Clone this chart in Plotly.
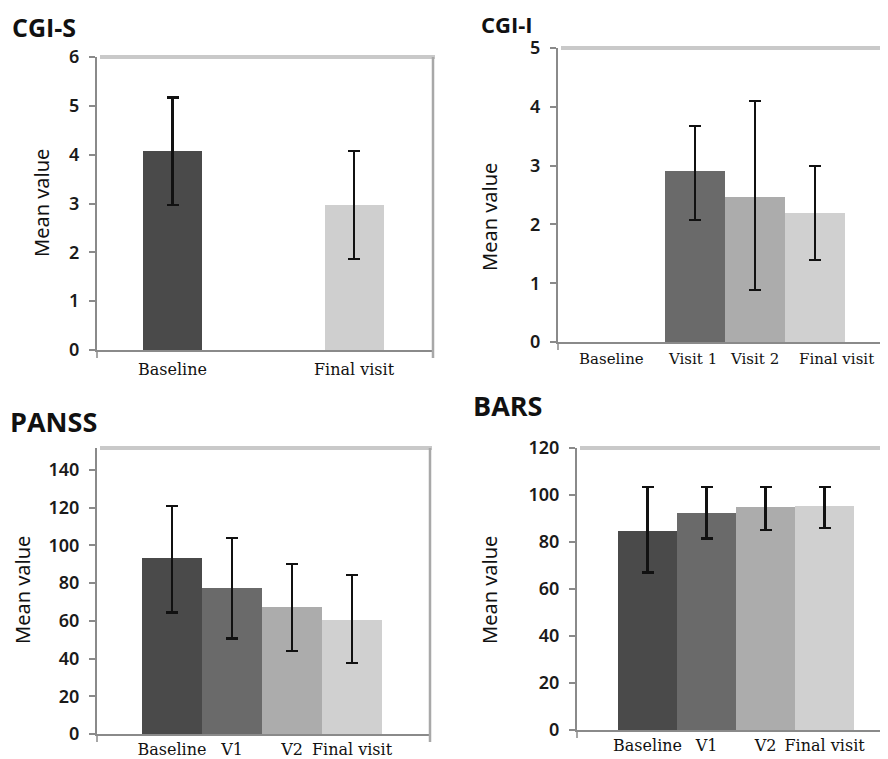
import plotly.graph_objects as go

# ---------------- data ----------------
cgis_categories = ["Baseline", "Final visit"]
cgis_mean = [4.07, 2.97]
cgis_low = [2.97, 1.87]
cgis_high = [5.17, 4.07]

cgii_categories = ["Baseline", "Visit 1", "Visit 2", "Final visit"]
cgii_mean = [None, 2.90, 2.46, 2.19]
cgii_low = [None, 2.08, 0.89, 1.39]
cgii_high = [None, 3.68, 4.10, 3.00]

panss_categories = ["Baseline", "V1", "V2", "Final visit"]
panss_mean = [93.2, 77.6, 67.5, 60.6]
panss_low = [64.5, 50.7, 44.0, 37.8]
panss_high = [121.1, 103.8, 90.2, 84.3]

bars_categories = ["Baseline", "V1", "V2", "Final visit"]
bars_mean = [84.5, 92.5, 94.8, 95.5]
bars_low = [67.0, 81.5, 85.0, 85.8]
bars_high = [103.5, 103.5, 103.5, 103.5]

panel_titles = ["CGI-S", "CGI-I", "PANSS", "BARS"]
y_title = "Mean value"

# ---------------- style ----------------
W, H = 888, 759
OFF = 8  # page body margin offset
colors4 = ["#4a4a4a", "#6a6a6a", "#acacac", "#d0d0d0"]
colors2 = ["#4a4a4a", "#cfcfcf"]
axis_grey = "#8a8a8a"


def px_x(p):
    return (p - OFF) / W


def px_y(p):
    return 1 - (p - OFF) / H


# panel geometry in screen pixels: (left, right, top, bottom)
panels = [
    dict(l=97, r=433, t=57, b=350),
    dict(l=558, r=896, t=48, b=342),
    dict(l=97, r=430, t=448, b=734),
    dict(l=577, r=896, t=448, b=730),
]

fig = go.Figure()


def add_bars(idx, cats, mean, low, high, cols, width):
    xa = "x" if idx == 1 else f"x{idx}"
    ya = "y" if idx == 1 else f"y{idx}"
    plus = [None if m is None else h - m for m, h in zip(mean, high)]
    minus = [None if m is None else m - l for m, l in zip(mean, low)]
    fig.add_trace(go.Bar(
        x=cats, y=mean, xaxis=xa, yaxis=ya,
        marker=dict(color=cols, line=dict(width=0)),
        width=width,
        error_y=dict(type="data", symmetric=False, array=plus, arrayminus=minus,
                     color="#111111", thickness=2.2, width=6),
        showlegend=False, hoverinfo="x+y",
    ))


add_bars(1, cgis_categories, cgis_mean, cgis_low, cgis_high, colors2, 0.325)
add_bars(2, cgii_categories, cgii_mean, cgii_low, cgii_high, colors4, 1.0)
add_bars(3, panss_categories, panss_mean, panss_low, panss_high, colors4, 1.0)
add_bars(4, bars_categories, bars_mean, bars_low, bars_high, colors4, 1.0)

x_ranges = [[-0.416, 1.435], [-1.283, 4.35], [-1.25, 4.30], [-1.195, 4.21]]
y_ranges = [[0, 6], [0, 5], [0, 151.7], [0, 120]]
y_dticks = [1, 1, 20, 20]
cat_lists = [cgis_categories, cgii_categories, panss_categories, bars_categories]
x_label_standoff = [4, 4, 0, 0]

layout = dict(
    width=W, height=H, autosize=False,
    margin=dict(l=0, r=0, t=0, b=0),
    paper_bgcolor="white", plot_bgcolor="white",
    barmode="group", bargap=0,
)

for i, p in enumerate(panels):
    n = "" if i == 0 else str(i + 1)
    layout[f"xaxis{n}"] = dict(
        domain=[px_x(p["l"]), min(px_x(p["r"]), 1.0)],
        anchor=f"y{n}",
        type="category", categoryorder="array", categoryarray=cat_lists[i],
        range=x_ranges[i],
        showline=True, linecolor=axis_grey, linewidth=2,
        ticks="", showgrid=False, zeroline=False,
        tickangle=0, automargin=False,
        showticklabels=(i != 1),
        ticklabelstandoff=x_label_standoff[i],
        tickfont=dict(family="DejaVu Serif", size=16, color="#111111"),
        fixedrange=True,
    )
    layout[f"yaxis{n}"] = dict(
        domain=[px_y(p["b"]), px_y(p["t"])],
        anchor=f"x{n}",
        range=y_ranges[i], dtick=y_dticks[i], tick0=0,
        showline=True, linecolor=axis_grey, linewidth=2,
        ticks="outside", ticklen=6, tickwidth=1.5, tickcolor=axis_grey,
        ticklabelstandoff=6, automargin=False,
        showgrid=False, zeroline=False,
        tickfont=dict(family="Noto Sans", size=18, color="#1a1a1a", weight=600),
        fixedrange=True,
    )

shapes = []
for i, p in enumerate(panels):
    # top frame line (light grey shadow)
    shapes.append(dict(type="line", xref="paper", yref="paper",
                       x0=px_x(p["l"] + 3), x1=min(px_x(p["r"] + 2), 1.0),
                       y0=px_y(p["t"]), y1=px_y(p["t"]),
                       line=dict(color="#c9c9c9", width=4)))
    # y-axis extension below the origin
    shapes.append(dict(type="line", xref="paper", yref="paper",
                       x0=px_x(p["l"]), x1=px_x(p["l"]),
                       y0=px_y(p["b"]), y1=px_y(p["b"] + 8),
                       line=dict(color=axis_grey, width=1.5)))
    if p["r"] < 888:
        # right frame line
        shapes.append(dict(type="line", xref="paper", yref="paper",
                           x0=px_x(p["r"]), x1=px_x(p["r"]),
                           y0=px_y(p["b"] + 8), y1=px_y(p["t"]),
                           line=dict(color="#a8a8a8", width=2.5)))

layout["shapes"] = shapes

annotations = []
title_pos = [(10, 27), (479, 24), (8, 422), (471, 405)]
title_sizes = [25, 22, 27, 27]
for (tx, ty), txt, fs in zip(title_pos, panel_titles, title_sizes):
    annotations.append(dict(text=txt, xref="paper", yref="paper",
                            x=px_x(tx), y=px_y(ty), xanchor="left", yanchor="middle",
                            showarrow=False,
                            font=dict(family="Open Sans", size=fs, color="#111111", weight="bold")))
ytitle_pos = [(41, 203), (489, 217), (22, 590), (489, 590)]
for tx, ty in ytitle_pos:
    annotations.append(dict(text=y_title, xref="paper", yref="paper",
                            x=px_x(tx), y=px_y(ty), xanchor="center", yanchor="middle",
                            textangle=-90, showarrow=False,
                            font=dict(family="Noto Sans", size=20, color="#111111")))
# CGI-I category labels (set as one line in the original, so slightly off-centre)
cgii_label_shift = [-23, -2, 0, 21]
for cat, dx in zip(cgii_categories, cgii_label_shift):
    annotations.append(dict(text=cat, xref="x2", yref="paper",
                            x=cat, y=px_y(panels[1]["b"] + 6), yanchor="top",
                            xanchor="center", xshift=dx, showarrow=False,
                            font=dict(family="DejaVu Serif", size=15, color="#111111")))
layout["annotations"] = annotations

fig.update_layout(**layout)
fig.write_html("out.html")
